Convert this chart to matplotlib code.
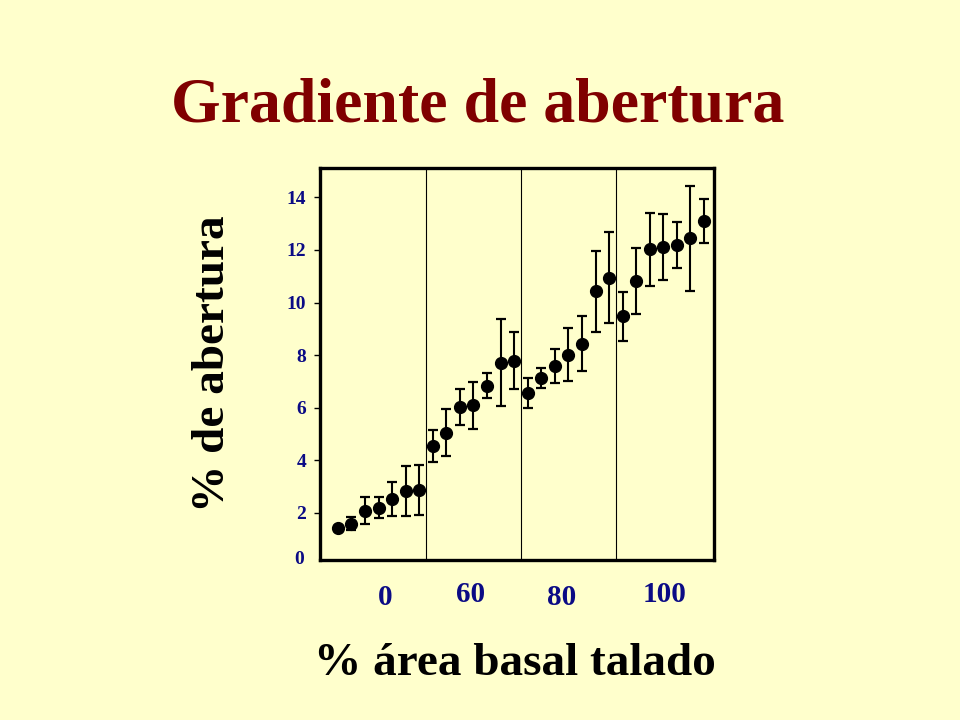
import matplotlib
matplotlib.use("Agg")
import matplotlib.pyplot as plt
import matplotlib.transforms as mtransforms

# ---- data ----
plot_index = list(range(1, 29))
abertura = [1.41, 1.58, 2.08, 2.18, 2.52, 2.81, 2.85,
            4.53, 5.04, 6.02, 6.09, 6.84, 7.71, 7.79,
            6.54, 7.12, 7.58, 8.02, 8.44, 10.42, 10.95,
            9.47, 10.82, 12.02, 12.12, 12.19, 12.45, 13.10]
error = [0.10, 0.25, 0.50, 0.40, 0.65, 0.95, 0.95,
         0.60, 0.90, 0.67, 0.90, 0.48, 1.65, 1.10,
         0.57, 0.38, 0.65, 1.00, 1.05, 1.53, 1.73,
         0.92, 1.27, 1.40, 1.25, 0.87, 2.00, 0.83]
group_labels = ["0", "60", "80", "100"]
group_bounds = [7.5, 14.5, 21.5]
y_ticks = [2, 4, 6, 8, 10, 12, 14]

BG = "#FFFFCC"
NAVY = "#0B0B85"
DARKRED = "#800000"
SERIF = ["Liberation Serif", "DejaVu Serif"]

fig = plt.figure(figsize=(9.6, 7.2), dpi=100, facecolor=BG)
ax = fig.add_axes([320/960, 1-560/720, 394/960, 392/720])
ax.set_facecolor(BG)

ax.errorbar(plot_index, abertura, yerr=error, fmt="o", color="black",
            ecolor="black", elinewidth=1.5, capsize=3.4, capthick=1.6,
            markersize=8.5, zorder=3)

for b in group_bounds:
    ax.axvline(b, color="black", lw=0.8, zorder=1)

ax.set_xlim(-0.32, 28.74)
ax.set_ylim(0.2, 15.12)
ax.set_xticks([])
ax.set_yticks(y_ticks)
ax.set_yticklabels([str(t) for t in y_ticks])
ax.tick_params(axis="y", direction="out", length=4, width=1.0, pad=6,
               labelsize=14, labelcolor=NAVY)
for lab in ax.get_yticklabels():
    lab.set_fontfamily(SERIF)
    lab.set_fontweight("bold")
# "0" label at the bottom of the axis
ax.text(-0.04, 0.0, "0", transform=ax.transAxes, ha="right", va="center",
        fontsize=14, fontweight="bold", color=NAVY, family=SERIF)

for s in ax.spines.values():
    s.set_linewidth(2.4)

# group labels below axis
trans = mtransforms.blended_transform_factory(ax.transData, ax.transAxes)
group_x = [4.5, 10.8, 17.5, 25.1]
group_y = [-0.095, -0.088, -0.095, -0.088]
for gx, gy, gl in zip(group_x, group_y, group_labels):
    ax.text(gx, gy, gl, transform=trans, ha="center", va="center",
            fontsize=21, fontweight="bold", color=NAVY, family=SERIF)

fig.text(478/960, 1-107/720, "Gradiente de abertura", ha="center", va="center",
         fontsize=46, fontweight="bold", color=DARKRED, family=SERIF)
fig.text(515/960, 1-664/720, "% área basal talado", ha="center", va="center",
         fontsize=34, fontweight="bold", color="black", family=SERIF)
fig.text(213/960, 1-364/720, "% de abertura", ha="center", va="center",
         rotation=90, fontsize=34, fontweight="bold", color="black", family=SERIF)

fig.savefig("out.png", dpi=100, facecolor=BG)
